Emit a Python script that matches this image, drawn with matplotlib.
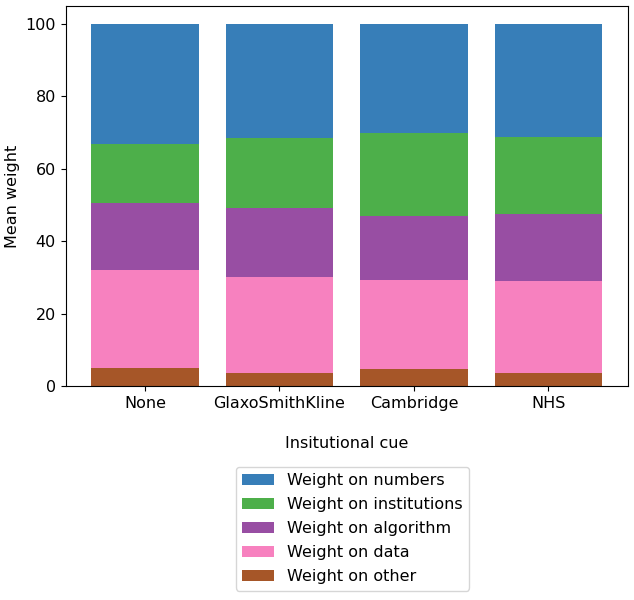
import matplotlib
matplotlib.use("Agg")
import matplotlib.pyplot as plt
import numpy as np

categories = ["None", "GlaxoSmithKline", "Cambridge", "NHS"]
other = [5.0, 3.7, 4.6, 3.7]
data = [27.0, 26.4, 24.8, 25.4]
algorithm = [18.7, 19.2, 17.6, 18.3]
institutions = [16.3, 19.3, 22.9, 21.5]
numbers = [33.0, 31.4, 30.1, 31.1]

series = [
    ("Weight on other", other, "#a65628"),
    ("Weight on data", data, "#f781bf"),
    ("Weight on algorithm", algorithm, "#984ea3"),
    ("Weight on institutions", institutions, "#4daf4a"),
    ("Weight on numbers", numbers, "#377eb8"),
]

FS = 11.5
fig = plt.figure(figsize=(6.34, 6.0), dpi=100)
ax = fig.add_axes([0.1036, 0.3567, 0.8864, 0.6333])

x = np.arange(len(categories))
bottom = np.zeros(len(categories))
for label, vals, color in series:
    ax.bar(x, vals, bottom=bottom, color=color, label=label, width=0.8)
    bottom += np.array(vals)

ax.set_xticks(x)
ax.set_xticklabels(categories, fontsize=FS)
ax.tick_params(axis="y", labelsize=FS)
ax.set_ylabel("Mean weight", fontsize=FS)
ax.set_xlabel("Insitutional cue", fontsize=FS, labelpad=18)

h, l = ax.get_legend_handles_labels()
fig.legend(h[::-1], l[::-1], loc="upper center", bbox_to_anchor=(0.556, 0.235),
           fontsize=FS, frameon=True, labelspacing=0.56)

fig.savefig("out.png", dpi=100)
